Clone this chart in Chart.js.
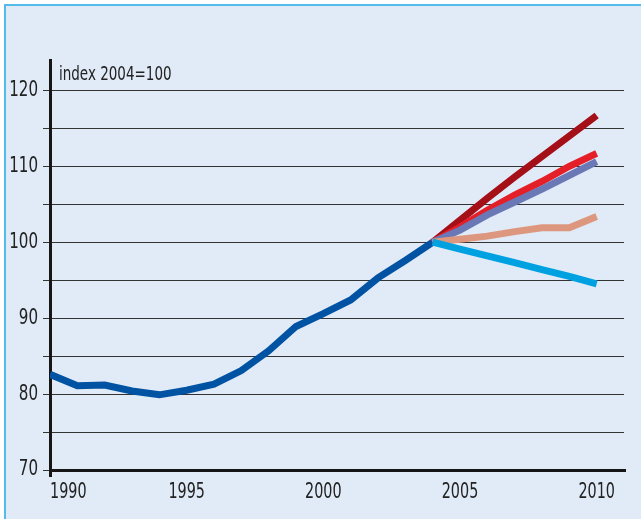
<!DOCTYPE html>
<html>
<head>
<meta charset="utf-8">
<script src="https://cdn.jsdelivr.net/npm/chart.js@4.4.1/dist/chart.umd.min.js"></script>
<style>
  html, body { margin: 0; padding: 0; background: #ffffff; }
  #frame {
    position: absolute; left: 4px; top: 4px; width: 637px; height: 515px;
    background: #e0ebf7; border-left: 2px solid #52bbe9; border-top: 2px solid #52bbe9;
    box-sizing: border-box;
  }
  #wrap { position: absolute; left: 0; top: 0; width: 641px; height: 519px; }
</style>
</head>
<body>
<div id="frame"></div>
<div id="wrap"><canvas id="chart" width="641" height="519"></canvas></div>
<script>
// historical series, index 2004 = 100
const histYears = [1990, 1991, 1992, 1993, 1994, 1995, 1996, 1997, 1998, 1999, 2000, 2001, 2002, 2003, 2004];
const histValues = [82.6, 81.1, 81.2, 80.4, 79.9, 80.5, 81.3, 83.1, 85.7, 88.9, 90.6, 92.4, 95.3, 97.6, 100];

// scenario paths 2004-2010
const scenYears = [2004, 2005, 2006, 2007, 2008, 2009, 2010];
const scenDarkRed = [100, 102.9, 105.8, 108.6, 111.3, 114.0, 116.7];
const scenRed = [100, 102.0, 104.2, 106.2, 108.0, 110.0, 111.7];
const scenPurple = [100, 101.6, 103.6, 105.3, 107.0, 108.8, 110.6];
const scenSalmon = [100, 100.4, 100.8, 101.4, 101.9, 101.9, 103.4];
const scenCyan = [100, 99.1, 98.2, 97.3, 96.4, 95.5, 94.5];

const yearTicks = [1990, 1995, 2000, 2005, 2010];
const yLabelTicks = [70, 80, 90, 100, 110, 120];

const FONT = '"DejaVu Sans Condensed", "DejaVu Sans", sans-serif';

function pts(xs, ys) {
  return xs.map((x, i) => ({ x: x, y: ys[i] }));
}

function line(label, xs, ys, color, order) {
  return {
    label: label,
    data: pts(xs, ys),
    borderColor: color,
    borderWidth: 7,
    pointRadius: 0,
    tension: 0,
    borderCapStyle: 'butt',
    borderJoinStyle: 'miter',
    fill: false,
    order: order
  };
}

// the source uses a condensed face; squeeze the tick labels horizontally
function narrowLabels(scale, k, firstLeft) {
  scale.drawLabels = function (chartArea) {
    const ctx = this.ctx;
    const items = this.getLabelItems(chartArea);
    items.forEach((item, idx) => {
      const o = item.options;
      ctx.save();
      ctx.translate(o.translation[0], o.translation[1]);
      ctx.rotate(o.rotation);
      ctx.scale(k, 1);
      ctx.font = item.font.string;
      ctx.fillStyle = o.color;
      ctx.textAlign = (firstLeft && idx === 0) ? 'left' : o.textAlign;
      ctx.textBaseline = o.textBaseline;
      const lines = Array.isArray(item.label) ? item.label : [item.label];
      lines.forEach((l, i) => ctx.fillText(l, 0, item.textOffset + i * item.font.lineHeight));
      ctx.restore();
    });
  };
}

const narrowText = {
  id: 'narrowText',
  beforeDraw(chart) {
    narrowLabels(chart.scales.x, 0.76, true);
    narrowLabels(chart.scales.y, 0.8, false);
  },
  afterDraw(chart) {
    const ctx = chart.ctx;
    const a = chart.chartArea;
    ctx.save();
    ctx.translate(a.left + 9, a.top + 20);
    ctx.scale(0.75, 1);
    ctx.font = '20px ' + FONT;
    ctx.fillStyle = '#222';
    ctx.textAlign = 'left';
    ctx.textBaseline = 'alphabetic';
    ctx.fillText('index 2004=100', 0, 0);
    ctx.restore();
  }
};

new Chart(document.getElementById('chart'), {
  type: 'line',
  data: {
    datasets: [
      line('history', histYears, histValues, '#0052a3', 6),
      line('s1', scenYears, scenDarkRed, '#a50f17', 5),
      line('s2', scenYears, scenRed, '#e41f28', 4),
      line('s3', scenYears, scenPurple, '#6a79b5', 3),
      line('s4', scenYears, scenSalmon, '#de977f', 2),
      line('s5', scenYears, scenCyan, '#00a1e1', 1)
    ]
  },
  options: {
    responsive: false,
    animation: false,
    layout: { padding: { left: 0, top: 60, right: 17, bottom: 0 } },
    plugins: { legend: { display: false }, tooltip: { enabled: false } },
    scales: {
      x: {
        type: 'linear',
        min: 1990,
        max: 2011,
        afterFit(s) { s.height = 49; },
        afterBuildTicks(s) { s.ticks = yearTicks.map(v => ({ value: v })); },
        // only the first tick (under the y axis) shows a stub below the axis
        grid: {
          display: true,
          drawOnChartArea: false,
          drawTicks: true,
          tickLength: 7,
          lineWidth: 3,
          color: (c) => (c.index === 0 ? '#161616' : 'rgba(0,0,0,0)')
        },
        border: { display: true, width: 3, color: '#161616' },
        ticks: {
          padding: 3,
          color: '#222',
          font: { family: FONT, size: 21 },
          maxRotation: 0,
          autoSkip: false,
          callback: (v) => String(v)
        }
      },
      y: {
        min: 70,
        max: 124,
        afterFit(s) { s.width = 50; },
        ticks: {
          stepSize: 5,
          includeBounds: false,
          padding: 5,
          color: '#222',
          font: { family: FONT, size: 21 },
          autoSkip: false,
          callback: (v) => (yLabelTicks.includes(v) ? String(v) : '')
        },
        grid: { color: '#333', lineWidth: 1, tickLength: 7, drawTicks: true },
        border: { display: true, width: 3, color: '#161616' }
      }
    }
  },
  plugins: [narrowText]
});
</script>
</body>
</html>
